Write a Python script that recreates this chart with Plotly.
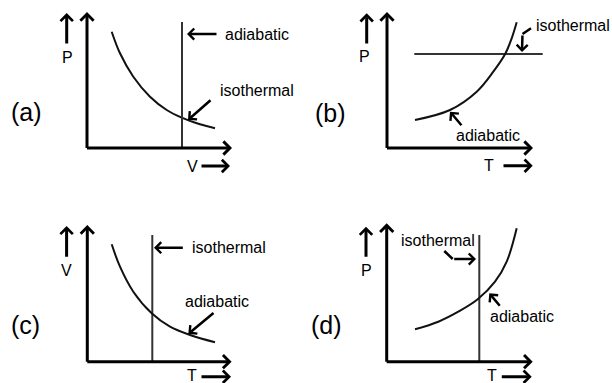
import plotly.graph_objects as go

# ---- data (units: 1 = 10 px, measured from each panel's origin) ----
# (a) P-V diagram
a_iso_x = [2.47, 3.3, 4.63, 6.3, 7.97, 9.47, 11.3, 12.8]
a_iso_y = [11.63, 9.47, 7.13, 5.13, 3.8, 3.03, 2.37, 1.97]
a_adi_x = [9.5, 9.5]
a_adi_y = [0, 12.6]
# (b) P-T diagram
b_iso_x = [2.73, 15.57]
b_iso_y = [9.4, 9.4]
b_adi_x = [2.8, 6.3, 8.97, 10.63, 11.8, 12.47, 12.97]
b_adi_y = [2.8, 3.8, 5.63, 7.63, 9.37, 10.97, 12.57]
# (c) V-T diagram
c_iso_x = [6.5, 6.5]
c_iso_y = [0, 12.67]
c_adi_x = [2.44, 3.27, 4.6, 6.44, 8.27, 10.27, 12.77]
c_adi_y = [11.74, 9.5, 7.0, 4.84, 3.5, 2.67, 1.94]
# (d) P-T diagram
d_iso_x = [9.26, 9.26]
d_iso_y = [0, 12.67]
d_adi_x = [2.83, 5.16, 7.16, 9.1, 10.83, 12.0, 13.0]
d_adi_y = [3.24, 4.0, 5.0, 6.24, 8.0, 10.0, 13.34]

panel_tags = ["(a)", "(b)", "(c)", "(d)"]
y_labels = ["P", "P", "V", "P"]
x_labels = ["V", "T", "T", "T"]

W, H = 612, 383
FONT = "Arial, Liberation Sans, sans-serif"

# panel frames in pixels: quadrant box, origin, axis lengths
frames = [
    dict(left=0, top=0, w=306, h=190, ox=87, oy=148, xend=14.5, yend=13.6),
    dict(left=306, top=0, w=306, h=190, ox=387, oy=148, xend=14.6, yend=13.6),
    dict(left=0, top=190, w=306, h=193, ox=87.3, oy=361.7, xend=14.43, yend=13.67),
    dict(left=306, top=190, w=306, h=193, ox=386.7, oy=361.7, xend=14.6, yend=13.84),
]

# label placement per panel: tag, y label, up arrow, x label, right arrow
decor = [
    dict(tag=(-6.1, 3.6), yl=(-2.0, 9.1), up=(-2.03, 10.3, 13.5), xl=(10.5, -1.8), rt=(11.3, 14.3, -1.8)),
    dict(tag=(-5.7, 3.47), yl=(-2.27, 9.13), up=(-2.03, 10.3, 13.47), xl=(10.17, -1.77), rt=(11.5, 14.57, -1.77)),
    dict(tag=(-6.23, 3.67), yl=(-2.07, 9.17), up=(-2.07, 10.34, 13.57), xl=(10.43, -1.4), rt=(11.27, 14.37, -1.5)),
    dict(tag=(-6.07, 3.67), yl=(-2.07, 9.17), up=(-2.07, 10.34, 13.5), xl=(10.53, -1.4), rt=(11.36, 14.5, -1.5)),
]

curves = [
    [(a_iso_x, a_iso_y, 2, "#111"), (a_adi_x, a_adi_y, 2, "#333")],
    [(b_iso_x, b_iso_y, 2, "#333"), (b_adi_x, b_adi_y, 2, "#111")],
    [(c_iso_x, c_iso_y, 2, "#333"), (c_adi_x, c_adi_y, 2, "#111")],
    [(d_iso_x, d_iso_y, 2, "#333"), (d_adi_x, d_adi_y, 2, "#111")],
]

fig = go.Figure()
annotations = []


def refs(i):
    return ("x", "y") if i == 0 else (f"x{i+1}", f"y{i+1}")


def arrow(i, x0, y0, x1, y1, width=2.5, size=0.85):
    xr, yr = refs(i)
    return dict(xref=xr, yref=yr, axref=xr, ayref=yr, x=x1, y=y1, ax=x0, ay=y0,
                text="", showarrow=True, arrowhead=4, arrowwidth=width,
                arrowsize=size, arrowcolor="black", standoff=0, startstandoff=0)


def label(i, txt, x, y, size=16, anchor="left"):
    xr, yr = refs(i)
    return dict(xref=xr, yref=yr, x=x, y=y, text=txt, showarrow=False,
                xanchor=anchor, yanchor="middle",
                font=dict(family=FONT, size=size, color="black"))


for i, fr in enumerate(frames):
    xr, yr = refs(i)
    xkey = "xaxis" if i == 0 else f"xaxis{i+1}"
    ykey = "yaxis" if i == 0 else f"yaxis{i+1}"
    xdom = [fr["left"] / W, (fr["left"] + fr["w"]) / W]
    ydom = [1 - (fr["top"] + fr["h"]) / H, 1 - fr["top"] / H]
    xrng = [(fr["left"] - fr["ox"]) / 10, (fr["left"] + fr["w"] - fr["ox"]) / 10]
    yrng = [(fr["oy"] - fr["top"] - fr["h"]) / 10, (fr["oy"] - fr["top"]) / 10]
    fig.update_layout({
        xkey: dict(domain=xdom, range=xrng, visible=False, fixedrange=True, anchor=yr),
        ykey: dict(domain=ydom, range=yrng, visible=False, fixedrange=True, anchor=xr),
    })
    for cx, cy, lw, col in curves[i]:
        fig.add_trace(go.Scatter(x=cx, y=cy, mode="lines", xaxis=xr, yaxis=yr,
                                 line=dict(color=col, width=lw, shape="spline"),
                                 hoverinfo="skip", showlegend=False))
    # axes with arrowheads
    annotations.append(arrow(i, -0.15, 0, fr["xend"], 0, width=3, size=0.85))
    annotations.append(arrow(i, 0, -0.15, 0, fr["yend"], width=3, size=0.85))
    d = decor[i]
    annotations.append(label(i, panel_tags[i], d["tag"][0], d["tag"][1], size=25, anchor="center"))
    annotations.append(label(i, y_labels[i], d["yl"][0], d["yl"][1], size=16, anchor="center"))
    annotations.append(arrow(i, d["up"][0], d["up"][1], d["up"][0], d["up"][2], width=3, size=0.8))
    annotations.append(label(i, x_labels[i], d["xl"][0], d["xl"][1], size=16, anchor="center"))
    annotations.append(arrow(i, d["rt"][0], d["rt"][2], d["rt"][1], d["rt"][2], width=3, size=0.8))

# curve labels and pointers
annotations += [
    label(0, "adiabatic", 13.6, 11.4), arrow(0, 13.1, 11.4, 10.0, 11.4),
    label(0, "isothermal", 13.1, 5.8), arrow(0, 12.5, 4.9, 10.1, 2.8),
    label(1, "isothermal", 14.73, 12.3), arrow(1, 13.55, 11.4, 13.5, 9.6),
    label(1, "adiabatic", 6.67, 1.3), arrow(1, 7.57, 2.13, 6.3, 3.63),
    label(2, "isothermal", 10.27, 11.4), arrow(2, 9.7, 11.4, 6.67, 11.4),
    label(2, "adiabatic", 9.6, 6.0), arrow(2, 12.77, 5.0, 10.1, 2.77),
    label(3, "isothermal", 1.26, 12.17), arrow(3, 6.6, 10.27, 8.93, 10.27),
    label(3, "adiabatic", 10.1, 4.5), arrow(3, 11.43, 5.44, 10.26, 6.84),
]

# hooked tails of the bent pointers in (b) and (d)
fig.add_trace(go.Scatter(x=[14.4, 13.55], y=[11.97, 11.4], mode="lines", xaxis="x2", yaxis="y2",
                         line=dict(color="black", width=2.5), hoverinfo="skip", showlegend=False))
fig.add_trace(go.Scatter(x=[5.76, 6.6], y=[11.07, 10.27], mode="lines", xaxis="x4", yaxis="y4",
                         line=dict(color="black", width=2.5), hoverinfo="skip", showlegend=False))

fig.update_layout(
    width=W, height=H, autosize=False,
    margin=dict(l=0, r=0, t=0, b=0, pad=0),
    paper_bgcolor="white", plot_bgcolor="white",
    annotations=annotations,
    showlegend=False,
)

# drop the page's default body margin so the figure sits at the window corner
fig.write_html("out.html", config={"displayModeBar": False},
               post_script="document.body.style.margin='0';")
